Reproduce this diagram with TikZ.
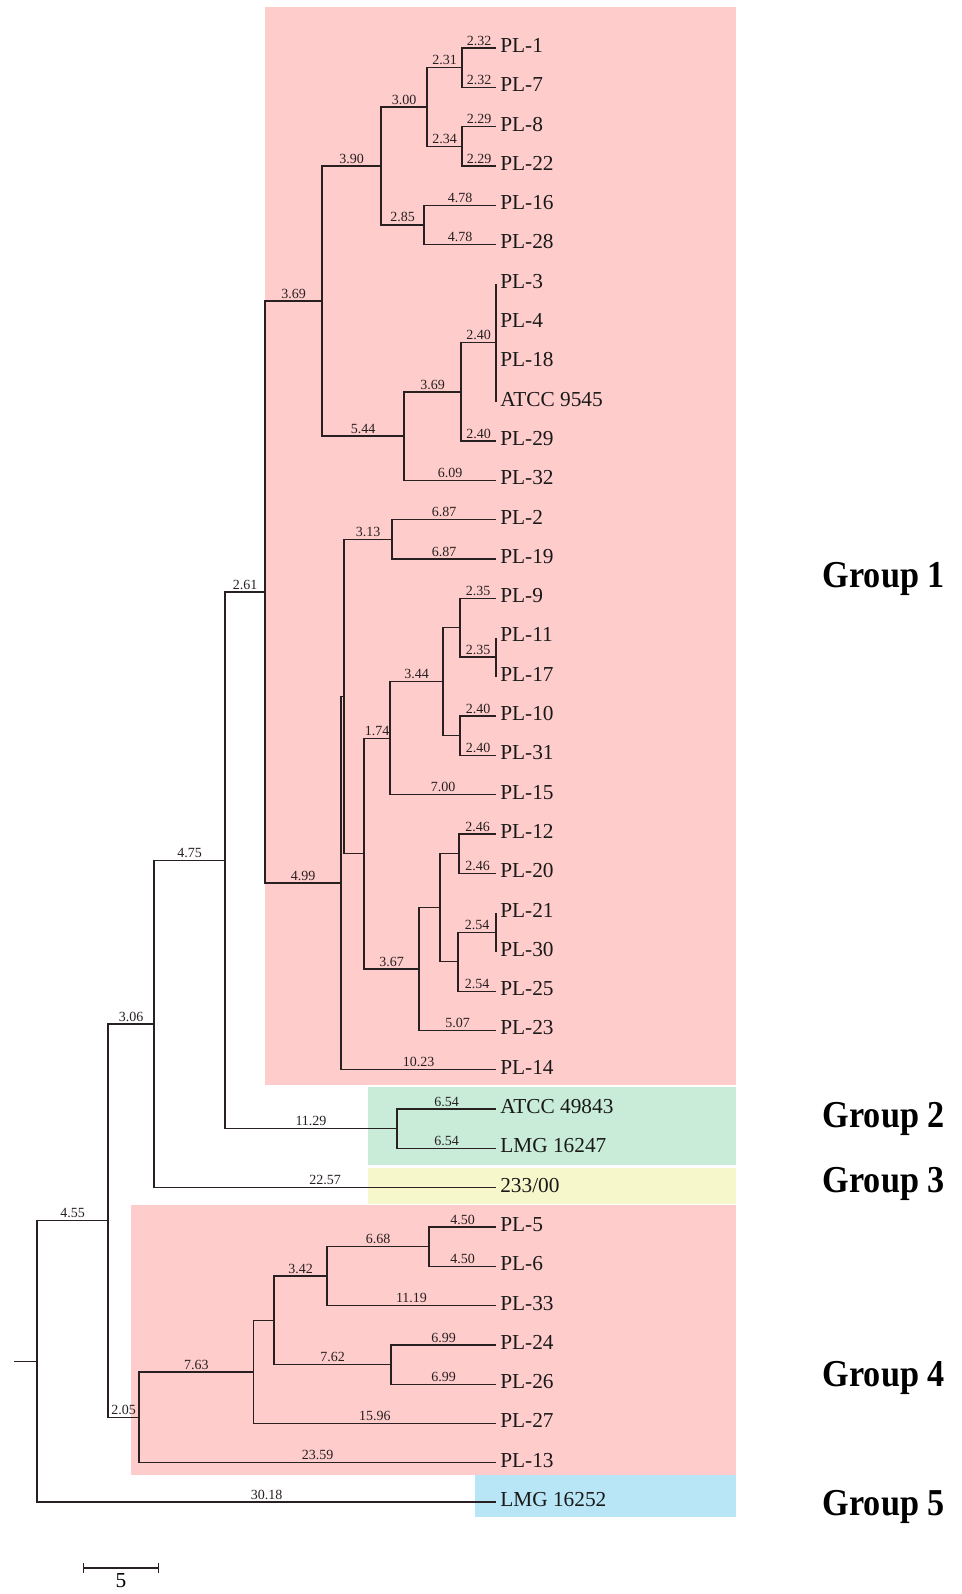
\documentclass[tikz,border=0pt]{standalone}
\usepackage{fontspec}
\setmainfont{Liberation Serif}
\usepackage{graphicx}
\usepackage{tikz}
\usetikzlibrary{arrows.meta}

\definecolor{grponepink}{RGB}{255,204,204}
\definecolor{grptwogreen}{RGB}{200,236,216}
\definecolor{grpthreeyellow}{RGB}{247,247,204}
\definecolor{grpfivecyan}{RGB}{184,230,246}
\definecolor{treeline}{RGB}{40,32,32}

\tikzset{
  branch/.style={draw=treeline, line width=1pt},
  blen/.style={pos=0.75, above=1.5pt, inner sep=0pt, text=treeline, font=\fontsize{10.5}{12}\selectfont},
  leaf/.style={anchor=west, inner xsep=3pt, inner ysep=0pt, text height=0.662em, text depth=0pt, text=black!90, font=\fontsize{16}{18}\selectfont},
  grp/.style={anchor=base east, inner sep=0pt, font=\fontsize{28.5}{32}\selectfont\bfseries},
}

\begin{document}
\begin{tikzpicture}[x=0.75pt,y=0.75pt,yscale=-1,xscale=1]
\useasboundingbox (0,0) rectangle (962,1594);

%Group boxes
\fill[grponepink] (265,7) rectangle (736,1085);
\fill[grptwogreen] (368,1087) rectangle (736,1165);
\fill[grpthreeyellow] (368,1168) rectangle (736,1204);
\fill[grponepink] (131,1205) rectangle (736,1475);
\fill[grpfivecyan] (475,1475) rectangle (736,1517);

%Strain labels
\node[leaf] (pl1) at (496,48) {PL-1};
\node[leaf] (pl7) at (496,87.3) {PL-7};
\node[leaf] (pl8) at (496,126.6) {PL-8};
\node[leaf] (pl22) at (496,165.9) {PL-22};
\node[leaf] (pl16) at (496,205.2) {PL-16};
\node[leaf] (pl28) at (496,244.5) {PL-28};
\node[leaf] (pl3) at (496,283.8) {PL-3};
\node[leaf] (pl4) at (496,323.1) {PL-4};
\node[leaf] (pl18) at (496,362.4) {PL-18};
\node[leaf] (atcc9545) at (496,401.7) {ATCC 9545};
\node[leaf] (pl29) at (496,441) {PL-29};
\node[leaf] (pl32) at (496,480.3) {PL-32};
\node[leaf] (pl2) at (496,519.6) {PL-2};
\node[leaf] (pl19) at (496,558.9) {PL-19};
\node[leaf] (pl9) at (496,598.2) {PL-9};
\node[leaf] (pl11) at (496,637.5) {PL-11};
\node[leaf] (pl17) at (496,676.8) {PL-17};
\node[leaf] (pl10) at (496,716.1) {PL-10};
\node[leaf] (pl31) at (496,755.4) {PL-31};
\node[leaf] (pl15) at (496,794.7) {PL-15};
\node[leaf] (pl12) at (496,834) {PL-12};
\node[leaf] (pl20) at (496,873.3) {PL-20};
\node[leaf] (pl21) at (496,912.6) {PL-21};
\node[leaf] (pl30) at (496,951.9) {PL-30};
\node[leaf] (pl25) at (496,991.2) {PL-25};
\node[leaf] (pl23) at (496,1030.5) {PL-23};
\node[leaf] (pl14) at (496,1069.8) {PL-14};
\node[leaf] (atcc49843) at (496,1109.1) {ATCC 49843};
\node[leaf] (lmg16247) at (496,1148.4) {LMG 16247};
\node[leaf] (str23300) at (496,1187.7) {233/00};
\node[leaf] (pl5) at (496,1227) {PL-5};
\node[leaf] (pl6) at (496,1266.3) {PL-6};
\node[leaf] (pl33) at (496,1305.6) {PL-33};
\node[leaf] (pl24) at (496,1344.9) {PL-24};
\node[leaf] (pl26) at (496,1384.2) {PL-26};
\node[leaf] (pl27) at (496,1423.5) {PL-27};
\node[leaf] (pl13) at (496,1462.8) {PL-13};
\node[leaf] (lmg16252) at (496,1502.1) {LMG 16252};

%Clusters
\coordinate (c17) at (462,67.65);
\coordinate (c822) at (462,146.25);
\coordinate (c300) at (427,106.95);
\coordinate (c285) at (424,224.85);
\coordinate (c390) at (381,165.9);
\coordinate (cp3) at (496,342.75);
\coordinate (c240) at (461,391.9);
\coordinate (c369) at (404,436.1);
\coordinate (c544) at (322,301);
\coordinate (c313) at (392,539.25);
\coordinate (cp11) at (496,657.15);
\coordinate (c235) at (460,627.7);
\coordinate (c1031) at (460,735.75);
\coordinate (c344) at (443,681.7);
\coordinate (c174) at (390,738.2);
\coordinate (c1220) at (459,853.65);
\coordinate (cp21) at (496,932.25);
\coordinate (c254) at (458,961.7);
\coordinate (c2125) at (440,907.7);
\coordinate (c507) at (419,969.1);
\coordinate (c367) at (364,853.65);
\coordinate (cmid) at (344,696.45);
\coordinate (c1023) at (341,883.1);
\coordinate (c261) at (265,592);
\coordinate (c654) at (397,1128.75);
\coordinate (c475) at (225,860.4);
\coordinate (c306) at (154,1024);
\coordinate (c450) at (429,1246.65);
\coordinate (c668) at (327,1276.1);
\coordinate (c699) at (391,1364.55);
\coordinate (c342) at (274,1320.3);
\coordinate (c1596) at (253.5,1371.9);
\coordinate (c763) at (139,1417.35);
\coordinate (c455) at (108,1220.7);
\coordinate (croot) at (37,1361.4);
\coordinate (cstub) at (14,1361.4);

%Group 1 upper part
\draw[branch] (c17) |- (pl1.west) node[blen] {2.32};
\draw[branch] (c17) |- (pl7.west) node[blen] {2.32};
\draw[branch] (c822) |- (pl8.west) node[blen] {2.29};
\draw[branch] (c822) |- (pl22.west) node[blen] {2.29};
\draw[branch] (c300) |- (c17) node[blen] {2.31};
\draw[branch] (c300) |- (c822) node[blen] {2.34};
\draw[branch] (c285) |- (pl16.west) node[blen] {4.78};
\draw[branch] (c285) |- (pl28.west) node[blen] {4.78};
\draw[branch] (c390) |- (c300) node[blen] {3.00};
\draw[branch] (c390) |- (c285) node[blen] {2.85};
\draw[branch] (cp3) |- (pl3.west);
\draw[branch] (cp3) |- (pl4.west);
\draw[branch] (cp3) |- (pl18.west);
\draw[branch] (cp3) |- (atcc9545.west);
\draw[branch] (c240) |- (cp3) node[blen] {2.40};
\draw[branch] (c240) |- (pl29.west) node[blen] {2.40};
\draw[branch] (c369) |- (c240) node[blen] {3.69};
\draw[branch] (c369) |- (pl32.west) node[blen] {6.09};
\draw[branch] (c544) |- (c390) node[blen] {3.90};
\draw[branch] (c544) |- (c369) node[blen] {5.44};
\draw[branch] (c261) |- (c544) node[blen] {3.69};

%Group 1 lower part
\draw[branch] (c313) |- (pl2.west) node[blen] {6.87};
\draw[branch] (c313) |- (pl19.west) node[blen] {6.87};
\draw[branch] (cp11) |- (pl11.west);
\draw[branch] (cp11) |- (pl17.west);
\draw[branch] (c235) |- (pl9.west) node[blen] {2.35};
\draw[branch] (c235) |- (cp11) node[blen] {2.35};
\draw[branch] (c1031) |- (pl10.west) node[blen] {2.40};
\draw[branch] (c1031) |- (pl31.west) node[blen] {2.40};
\draw[branch] (c344) |- (c235);
\draw[branch] (c344) |- (c1031);
\draw[branch] (c174) |- (c344) node[blen] {3.44};
\draw[branch] (c174) |- (pl15.west) node[blen] {7.00};
\draw[branch] (c1220) |- (pl12.west) node[blen] {2.46};
\draw[branch] (c1220) |- (pl20.west) node[blen] {2.46};
\draw[branch] (cp21) |- (pl21.west);
\draw[branch] (cp21) |- (pl30.west);
\draw[branch] (c254) |- (cp21) node[blen] {2.54};
\draw[branch] (c254) |- (pl25.west) node[blen] {2.54};
\draw[branch] (c2125) |- (c1220);
\draw[branch] (c2125) |- (c254);
\draw[branch] (c507) |- (c2125);
\draw[branch] (c507) |- (pl23.west) node[blen] {5.07};
\draw[branch] (c367) |- (c174) node[blen] {1.74};
\draw[branch] (c367) |- (c507) node[blen] {3.67};
\draw[branch] (cmid) |- (c313) node[blen] {3.13};
\draw[branch] (cmid) |- (c367);
\draw[branch] (c1023) |- (cmid);
\draw[branch] (c1023) |- (pl14.west) node[blen] {10.23};
\draw[branch] (c261) |- (c1023) node[blen] {4.99};

%Groups 2 and 3
\draw[branch] (c654) |- (atcc49843.west) node[blen] {6.54};
\draw[branch] (c654) |- (lmg16247.west) node[blen] {6.54};
\draw[branch] (c475) |- (c261) node[blen] {2.61};
\draw[branch] (c475) |- (c654) node[blen] {11.29};
\draw[branch] (c306) |- (c475) node[blen] {4.75};
\draw[branch] (c306) |- (str23300.west) node[blen] {22.57};

%Group 4
\draw[branch] (c450) |- (pl5.west) node[blen] {4.50};
\draw[branch] (c450) |- (pl6.west) node[blen] {4.50};
\draw[branch] (c668) |- (c450) node[blen] {6.68};
\draw[branch] (c668) |- (pl33.west) node[blen] {11.19};
\draw[branch] (c699) |- (pl24.west) node[blen] {6.99};
\draw[branch] (c699) |- (pl26.west) node[blen] {6.99};
\draw[branch] (c342) |- (c668) node[blen] {3.42};
\draw[branch] (c342) |- (c699) node[blen] {7.62};
\draw[branch] (c1596) |- (c342);
\draw[branch] (c1596) |- (pl27.west) node[blen] {15.96};
\draw[branch] (c763) |- (c1596) node[blen] {7.63};
\draw[branch] (c763) |- (pl13.west) node[blen] {23.59};

%Root and group 5
\draw[branch] (c455) |- (c306) node[blen] {3.06};
\draw[branch] (c455) |- (c763) node[blen] {2.05};
\draw[branch] (croot) |- (c455) node[blen] {4.55};
\draw[branch] (croot) |- (lmg16252.west) node[blen] {30.18};
\draw[branch] (cstub) -- (croot);

%Group names
\node[grp] (grp1) at (945,587) {\scalebox{0.9}[1]{Group 1}};
\node[grp] (grp2) at (945,1127) {\scalebox{0.9}[1]{Group 2}};
\node[grp] (grp3) at (945,1192) {\scalebox{0.9}[1]{Group 3}};
\node[grp] (grp4) at (945,1386) {\scalebox{0.9}[1]{Group 4}};
\node[grp] (grp5) at (945,1515) {\scalebox{0.9}[1]{Group 5}};

%Scale bar
\coordinate (sbl) at (83,1568);
\coordinate (sbr) at (159,1568);
\draw[branch, {Bar[width=7.5pt]}-{Bar[width=7.5pt]}] (sbl) -- (sbr) node[midway, below=1pt, inner sep=3pt, font=\fontsize{16}{18}\selectfont] (sbtext) {5};
\end{tikzpicture}
\end{document}
